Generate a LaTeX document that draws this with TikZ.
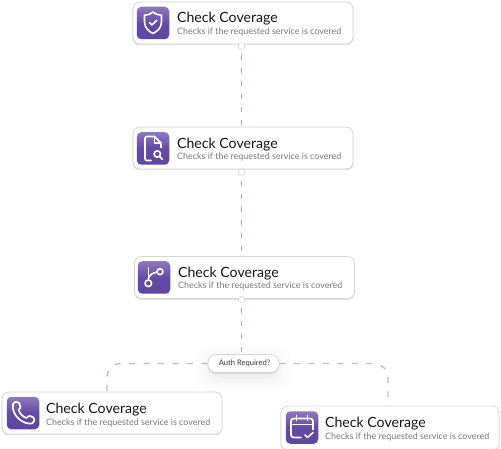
\documentclass[tikz,border=0pt]{standalone}
\usepackage{fontspec}
\setmainfont{Lato}
\usetikzlibrary{arrows.meta,calc}
\definecolor{ink}{HTML}{14141C}
\definecolor{muted}{HTML}{77777E}
\definecolor{edge}{HTML}{D6D6DA}
\definecolor{wire}{HTML}{9FA6DC}
\definecolor{lilac}{HTML}{B9B6EE}
\definecolor{violet}{HTML}{5E45A0}
\definecolor{violettop}{HTML}{8F78BC}
\tikzset{
  card/.style={draw=edge,fill=white,rounded corners=7pt,line width=.7pt,
    minimum width=220pt,minimum height=42pt,inner sep=0pt,
    preaction={draw=black,opacity=.16,line width=.8pt,transform canvas={yshift=-.8pt}}},
  tile/.style={rounded corners=4.5pt,minimum size=32.5pt,inner sep=0pt,
    top color=violettop,bottom color=violet,middle color=violet!88!violettop,shading angle=0},
  port/.style={circle,draw=edge,fill=white,line width=.6pt,minimum size=6.5pt,inner sep=0pt},
  head/.style={font=\fontsize{14.1}{16}\selectfont,text=ink,anchor=base west,inner sep=0pt},
  sub/.style={font=\fontsize{8.93}{10}\selectfont,text=muted,anchor=base west,inner sep=0pt},
  glyph/.style={draw=white,line width=1.6pt,line cap=round,line join=round},
  wirestep/.style={wire,line width=1.2pt,dash pattern=on 5pt off 8pt,dash phase=-5pt},
  branch/.style={lilac,line width=1.3pt,dash pattern=on 6pt off 8.5pt},
}
\begin{document}
\begin{tikzpicture}[x=1pt,y=-1pt]
  \useasboundingbox (0,0) rectangle (501,449);
  % Soft shadow below the question pill.
  \foreach \grow/\alpha in {16/.006,13/.007,10/.008,7/.01,4/.012,2/.014}
    \fill[black,opacity=\alpha,rounded corners=12pt]
      (212-\grow,362-\grow) rectangle (275+\grow,376+\grow);

  % Cards, top to bottom.
  \node[card] (shield) at (243,23) {};
  \node[card] (search) at (243,148) {};
  \node[card] (fork) at (244.5,277.5) {};
  \node[card] (phone) at (112,413) {};
  \node[card,minimum width=218pt,minimum height=44pt] (agenda) at (390,428) {};

  \node[tile] (shieldicon) at (153,23) {};
  \node[tile] (searchicon) at (153,148.5) {};
  \node[tile] (forkicon) at (154,277.5) {};
  \node[tile] (phoneicon) at (23,413) {};
  \node[tile] (agendaicon) at (302,427.5) {};

  \node[head] (shieldhead) at (177,23) {Check Coverage};
  \node[sub] (shieldsub) at (177,34.5) {Checks if the requested service is covered};
  \node[head] (searchhead) at (177,148.5) {Check Coverage};
  \node[sub] (searchsub) at (177,160) {Checks if the requested service is covered};
  \node[head] (forkhead) at (178,277.5) {Check Coverage};
  \node[sub] (forksub) at (178,289) {Checks if the requested service is covered};
  \node[head] (phonehead) at (46,413) {Check Coverage};
  \node[sub] (phonesub) at (46,425) {Checks if the requested service is covered};
  \node[head] (agendahead) at (325,427) {Check Coverage};
  \node[sub] (agendasub) at (325,439) {Checks if the requested service is covered};

  % Ports on the lower card edges.
  \node[port] (shieldport) at (241.5,46) {};
  \node[port] (searchport) at (241.5,172) {};
  \node[port] (forkport) at (241.5,299.5) {};

  \node[draw=edge,fill=white,rounded corners=8pt,line width=.7pt,minimum width=71pt,
        minimum height=18pt,inner sep=0pt,font=\fontsize{7.6}{9}\selectfont,text=ink!85,
        preaction={draw=black,opacity=.14,line width=.8pt,transform canvas={yshift=-.8pt}}] (auth) at (243.5,363.5) {\hspace{2pt}Auth Required?};

  % Connectors.
  \coordinate (searchtop) at (241.5,127);
  \coordinate (forktop) at (241.5,257);
  \coordinate (authtop) at (241.5,354);
  \coordinate (phonetop) at (107,392);
  \coordinate (agendatop) at (388,406);
  \draw[wirestep] (shieldport) -- (searchtop);
  \draw[wirestep] (searchport) -- (forktop);
  \draw[wirestep] (forkport) -- (authtop);
  \draw[branch,rounded corners=14pt] (auth.west) -- (107,363.5) -- (phonetop);
  \draw[branch,rounded corners=14pt] (auth.east) -- (388,363.5) -- (agendatop);

  % Shield glyph.
  \begin{scope}[shift={(shieldicon)}]
    \draw[glyph] (0,-11) .. controls (3,-8.5) and (6,-7.8) .. (8.5,-7.8) -- (8.5,-1)
      .. controls (8.5,5) and (4,8.5) .. (0,10.5) .. controls (-4,8.5) and (-8.5,5) .. (-8.5,-1)
      -- (-8.5,-7.8) .. controls (-6,-7.8) and (-3,-8.5) .. (0,-11) -- cycle;
    \draw[glyph] (-3.5,-.5) -- (-1,2) -- (3.8,-2.8);
  \end{scope}

  % Document and lens glyph.
  \begin{scope}[shift={(searchicon)}]
    \draw[glyph] (-2,12) -- (-6,12) .. controls (-7.5,12) and (-8,11) .. (-8,10) -- (-8,-10)
      .. controls (-8,-11) and (-7.5,-12) .. (-6,-12) -- (1.5,-12) -- (8,-5.5) -- (8,-1);
    \draw[glyph] (1.5,-12) -- (1.5,-5.5) -- (8,-5.5);
    \draw[glyph] (4.3,5.5) circle (3.2pt);
    \draw[glyph] (6.7,7.9) -- (9.3,10.8);
  \end{scope}

  % Branch glyph.
  \begin{scope}[shift={(forkicon)}]
    \draw[glyph] (-5.7,5.8) circle (3.3pt);
    \draw[glyph] (6,-5.8) circle (3pt);
    \draw[glyph] (-5.7,2.5) -- (-5.7,-9.5);
    \draw[glyph] (-5.7,1.5) .. controls (-5,-2.5) and (-1.5,-4.5) .. (3,-5.4);
  \end{scope}

  % Handset glyph.
  \begin{scope}[shift={(phoneicon)}]
    \draw[glyph,line width=1.7pt] (-10,-9) .. controls (-8,-12) and (-5,-12) .. (-4,-10)
      -- (-2.5,-6.5) .. controls (-2,-5) and (-4,-4) .. (-4.5,-3)
      .. controls (-3,1) and (0,4) .. (3.5,5)
      .. controls (4.5,4) and (5.5,2.5) .. (7,3) -- (10.5,4.5)
      .. controls (12,5.5) and (12,8) .. (9,10.5)
      .. controls (0,12) and (-12,2) .. (-10,-9) -- cycle;
  \end{scope}

  % Calendar glyph.
  \begin{scope}[shift={(agendaicon)}]
    \draw[glyph] (-1,10) -- (-8,10) .. controls (-10,10) and (-11,9) .. (-11,7) -- (-11,-6)
      .. controls (-11,-8) and (-10,-9) .. (-8,-9) -- (8,-9)
      .. controls (10,-9) and (11,-8) .. (11,-6) -- (11,2);
    \draw[glyph] (-11,-3) -- (11,-3);
    \draw[glyph] (-5.5,-12) -- (-5.5,-7);
    \draw[glyph] (5.5,-12) -- (5.5,-7);
    \draw[glyph] (3,7.5) -- (5.5,10) -- (11,5);
  \end{scope}
\end{tikzpicture}
\end{document}
